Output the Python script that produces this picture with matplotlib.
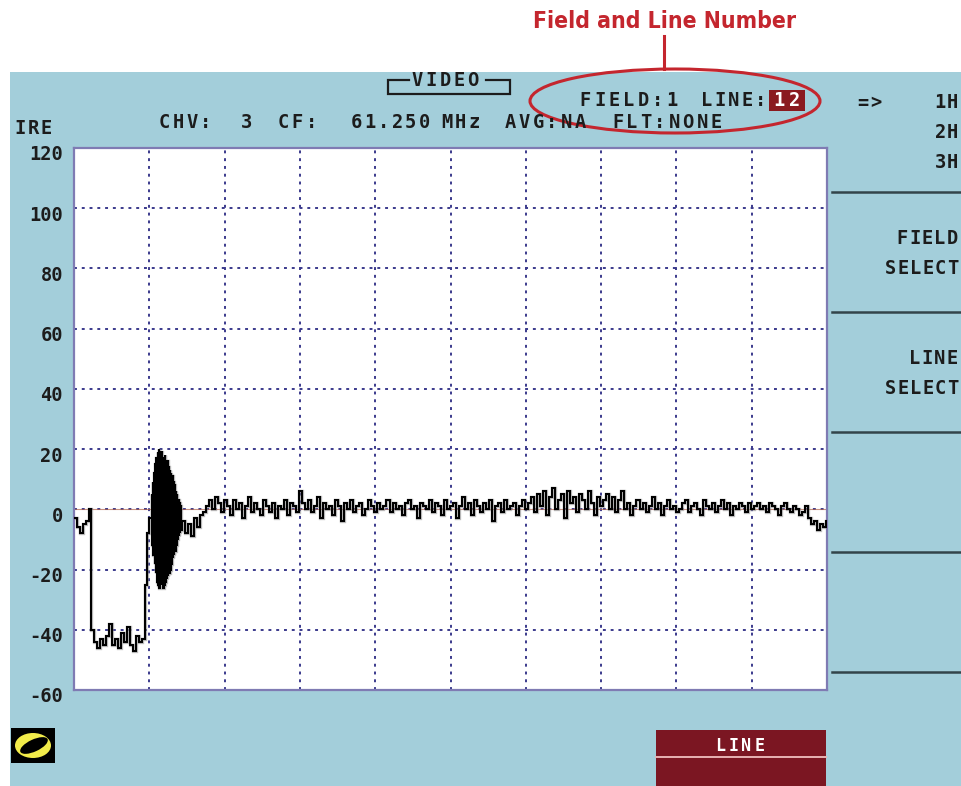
import numpy as np
import matplotlib
matplotlib.use('Agg')
import matplotlib.pyplot as plt
from matplotlib.patches import Rectangle, Ellipse
from matplotlib.transforms import ScaledTranslation

# ---- trace data (IRE), in segments ----
# each segment: (start in divisions, sample step in divisions)
porch_ire = [-3, -6, -8, -5, -4, 0]
sync_ire = [-40, -44, -46, -43, -45, -42, -38, -45, -43, -46, -41, -44,
            -39, -45, -47, -42, -44, -43]
breezeway_ire = [-25, -8, -3]
burst_ire = [5, -12, 9, -15, 12, -18, 15, -21, 17, -24, 19, -25, 20, -26,
             18, -25, 19, -24, 17, -26, 16, -25, 18, -24, 15, -23, 16, -22,
             14, -21, 13, -20, 12, -18, 11, -16, 9, -15, 8, -14, 6, -12,
             5, -10, 3, -9, 2, -8, 1, -7]
active_ire = [-4, -8, -5, -9, -3, -6, -2, -1, 1, 3, 0, 4, 2, -1, 3,
              1, -2, 3, 0, 2, -3, 1, 4, -1, 2, 0, -2, 3, 1, -1, 2, -3, 1, 0, 3, -2, 2, 1, -1, 6,
              2, 0, 3, -1, 1, 4, -3, 2, 0, 1, -2, 3, 1, -4, 2, 0, 3, -1, 1, 2, -2, 0, 3, 1, -1,
              2, 0, 1, 3, -1, 2, 0, 1, -2, 2, 3, 0, 1, -3, 2, 1, 0, 3, -1, 2, 1, -2, 3, 0, 1,
              2, -3, 1, 4, 0, 2, -2, 3, 1, -1, 2, 0, 3, -4, 1, 2, -1, 3, 0, 1, 2, -2, 1, 3, 0,
              2, 4, -1, 5, 1, 6, -2, 4, 7, 0, 3, 5, -3, 6, 2, 4, -1, 5, 3, 0, 6, 2, -2, 4, 1,
              3, 5, 0, 4, -1, 3, 6, 0, 2, -2, 1, 3, 0, 2, -1, 1, 4, 0, 2, -2, 1, 3, 0, 1, -1,
              0, 2, 3, -1, 1, 2, 0, -2, 3, 1, 0, 2, -1, 1, 3, 0, 2, -2, 1, 0, 2, 1, -1, 2, 0,
              1, 2, 0, 1, -1, 2, 1, 0, -2, 1, 2, 0, -1, 1, 0, -2, -1, 1, -3, -5, -4, -7, -5, -6, -4]
segments = [(porch_ire, 0.0, 0.04), (sync_ire, 0.22, 0.04),
            (breezeway_ire, 0.94, 0.03), (burst_ire, 1.03, 0.008),
            (active_ire, 1.43, 0.04)]
x_end = 10.0

ire_ticks = [-60, -40, -20, 0, 20, 40, 60, 80, 100, 120]
n_div = 10

BLUE = '#a3ceda'
RED = '#c4262e'
MAROON = '#7b1622'
GRID = '#3b3a8c'
TXT = '#1c1c1c'

fig = plt.figure(figsize=(9.61, 7.86), dpi=100, facecolor='white')

# background layer in screen pixels
bg = fig.add_axes([0, 0, 1, 1], zorder=0)
bg.set_xlim(0, 961)
bg.set_ylim(786, 0)
bg.axis('off')
bg.add_patch(Rectangle((10, 72), 951, 714, color=BLUE, lw=0))

def mono(x, y, s, pitch=14.0, size=13.5, color=TXT):
    for i, ch in enumerate(s):
        bg.text(x + pitch * (i + 0.5), y, ch, ha='center', va='center',
                fontsize=size, family='DejaVu Sans Mono', weight='bold',
                color=color)

# header
mono(14, 129, 'IRE', pitch=13)
mono(157, 123, 'CHV:')
mono(240, 123, '3')
mono(276, 123, 'CF:')
mono(350, 123, '61.250', pitch=13.5)
mono(440, 123, 'MHz', pitch=13.5)
mono(503, 123, 'AVG:NA', pitch=14)
mono(611, 123, 'FLT:NONE', pitch=14)
mono(578, 100, 'FIELD:1', pitch=14.5)
mono(700, 100, 'LINE:', pitch=13.5)
bg.add_patch(Rectangle((769, 90), 36, 21, color='#8a1a1f', lw=0))
mono(771, 100, '12', pitch=16, color='white')
mono(856, 103, '=>', pitch=13)
for k, lab in enumerate(['1H', '2H', '3H']):
    mono(934, 103 + 30 * k, lab, pitch=12.5)

# VIDEO box
mono(410, 81, 'VIDEO', pitch=14)
bg.plot([409, 388, 388, 510, 510, 486], [80, 80, 94, 94, 80, 80],
        color=TXT, lw=1.6, solid_joinstyle='miter')

# right soft-key panel
for yy in [192, 312, 432, 552, 672]:
    bg.plot([832, 961], [yy, yy], color='#33444a', lw=1.8)
mono(896, 238, 'FIELD', pitch=12.5)
mono(884, 268, 'SELECT', pitch=12.5)
mono(908, 358, 'LINE', pitch=12.5)
mono(884, 388, 'SELECT', pitch=12.5)

# bottom: logo and LINE key
bg.add_patch(Rectangle((11, 728), 44, 35, color='black', lw=0))
bg.add_patch(Ellipse((33, 745.5), 36, 25, color='#f2ec4a', lw=0))
bg.add_patch(Ellipse((34, 745.5), 30, 12, angle=-25, color='black', lw=0))
bg.add_patch(Rectangle((656, 730), 170, 56, color=MAROON, lw=0))
bg.plot([656, 826], [757, 757], color='#e7b3b3', lw=1.4)
mono(714, 746, 'LINE', pitch=13, size=12, color='white')

# callout
bg.text(665, 22, 'Field and Line Number', ha='center', va='center',
        fontsize=16.5, family=['Liberation Sans Narrow', 'DejaVu Sans'],
        fontstretch='condensed', weight='bold', color=RED)
bg.plot([664, 664], [36, 69], color=RED, lw=2.2)
bg.add_patch(Ellipse((675, 101), 290, 64, fill=False, ec=RED, lw=2.2))

# ---- waveform plot ----
ax = fig.add_axes([74 / 961, 96 / 786, 753 / 961, 542 / 786], zorder=1)
ax.set_facecolor('white')
ax.set_xlim(0, n_div)
ax.set_ylim(ire_ticks[0], ire_ticks[-1])
ax.set_xticks(np.arange(n_div + 1))
ax.set_yticks(ire_ticks)
ax.set_xticklabels([])
ax.set_yticklabels(['%d' % v for v in ire_ticks], family='DejaVu Sans Mono',
                   weight='bold', fontsize=13.5, color=TXT)
ax.tick_params(length=0, pad=8)
for lab in ax.get_yticklabels():
    lab.set_transform(lab.get_transform() +
                      ScaledTranslation(0, -5 / 100, fig.dpi_scale_trans))
ax.grid(True, color=GRID, lw=1.4, linestyle=(0, (1.5, 2.5)))
ax.set_axisbelow(True)
for sp in ax.spines.values():
    sp.set_color('#7f7bb3')
    sp.set_linewidth(1.6)

values = np.concatenate([np.array(v, float) for v, _, _ in segments])
edges = np.concatenate([t0 + dt * np.arange(len(v)) for v, t0, dt in segments])
edges = np.append(edges, x_end)

ax.axhline(0, color='#b0604a', lw=0.8, alpha=0.7, zorder=2)
ax.stairs(values, edges, baseline=None, color='#808080', lw=2.4, alpha=0.5, zorder=3)
ax.stairs(values, edges, baseline=None, color='black', lw=1.5, zorder=4)

fig.savefig('out.png', dpi=100, facecolor='white')
